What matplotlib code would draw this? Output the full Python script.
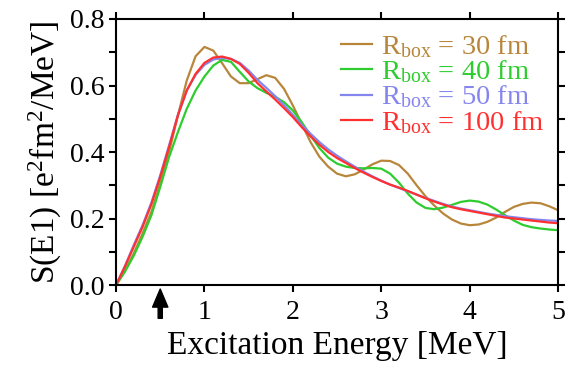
import numpy as np
from matplotlib import pyplot as plt

plt.rcParams['font.family'] = ['Liberation Serif', 'DejaVu Serif']
plt.rcParams['mathtext.fontset'] = 'custom'
plt.rcParams['mathtext.rm'] = 'Liberation Serif'
plt.rcParams['mathtext.it'] = 'Liberation Serif:italic'

# excitation energy grid [MeV]
energy = np.round(np.arange(0, 5.01, 0.1), 1)

# S(E1), one list per box size
s_30fm = [0.0, 0.042, 0.095, 0.155, 0.22, 0.305, 0.4, 0.51, 0.615, 0.688,
          0.716, 0.705, 0.667, 0.627, 0.607, 0.607, 0.619, 0.631, 0.623, 0.59,
          0.54, 0.485, 0.43, 0.386, 0.356, 0.335, 0.327, 0.333, 0.347, 0.363,
          0.374, 0.373, 0.361, 0.335, 0.3, 0.267, 0.239, 0.215, 0.197, 0.185,
          0.18, 0.182, 0.19, 0.203, 0.22, 0.235, 0.244, 0.248, 0.246, 0.237,
          0.225]
s_40fm = [0.0, 0.04, 0.088, 0.145, 0.21, 0.295, 0.385, 0.46, 0.53, 0.585,
          0.627, 0.66, 0.677, 0.671, 0.641, 0.612, 0.592, 0.578, 0.566, 0.55,
          0.525, 0.49, 0.45, 0.412, 0.383, 0.365, 0.356, 0.352, 0.351, 0.352,
          0.35, 0.335, 0.308, 0.275, 0.248, 0.232, 0.228, 0.233, 0.241, 0.25,
          0.254, 0.251, 0.242, 0.227, 0.21, 0.194, 0.181, 0.174, 0.17, 0.167,
          0.165]
s_50fm = [0.0, 0.057, 0.12, 0.18, 0.248, 0.33, 0.42, 0.512, 0.585, 0.632,
          0.662, 0.678, 0.683, 0.68, 0.668, 0.645, 0.617, 0.593, 0.568, 0.541,
          0.512, 0.482, 0.455, 0.43, 0.408, 0.389, 0.372, 0.356, 0.341, 0.327,
          0.314, 0.302, 0.292, 0.282, 0.272, 0.262, 0.253, 0.244, 0.236, 0.23,
          0.225, 0.22, 0.215, 0.211, 0.207, 0.204, 0.201, 0.198, 0.196, 0.194,
          0.193]
s_100fm = [0.0, 0.055, 0.115, 0.175, 0.243, 0.325, 0.415, 0.51, 0.585, 0.635,
           0.668, 0.684, 0.687, 0.68, 0.665, 0.638, 0.607, 0.582, 0.558, 0.532,
           0.505, 0.475, 0.447, 0.422, 0.4, 0.382, 0.367, 0.352, 0.338, 0.325,
           0.313, 0.302, 0.293, 0.283, 0.272, 0.261, 0.251, 0.242, 0.234, 0.228,
           0.223, 0.218, 0.213, 0.208, 0.203, 0.2, 0.197, 0.194, 0.191, 0.188,
           0.186]

labels = [r'R$_{\rm box}$ = 30 fm', r'R$_{\rm box}$ = 40 fm',
          r'R$_{\rm box}$ = 50 fm', r'R$_{\rm box}$ = 100 fm']
colors = ['#b8863b', '#2ecc2e', '#8585ee', '#ff3030']

fig, ax = plt.subplots(figsize=(5.66, 3.65), dpi=100)
fig.subplots_adjust(left=0.205, right=0.986, top=0.948, bottom=0.219)

for s, lab, c in zip([s_30fm, s_40fm, s_50fm, s_100fm], labels, colors):
    ax.plot(energy, s, color=c, lw=1.6, label=lab, solid_joinstyle='round')

ax.set_xlim(0, 5)
ax.set_ylim(0, 0.8)
ax.set_xticks([0, 1, 2, 3, 4, 5])
ax.set_yticks([0.0, 0.2, 0.4, 0.6, 0.8])
ax.set_yticks(np.arange(0.1, 0.8, 0.2), minor=True)
ax.set_yticklabels(['0.0', '0.2', '0.4', '0.6', '0.8'])
ax.tick_params(which='both', direction='out', length=5, width=1.5,
               top=True, right=True, labelsize=20)
ax.tick_params(axis='x', pad=6)
for sp in ax.spines.values():
    sp.set_linewidth(1.5)

ax.set_xlabel('Excitation Energy [MeV]', fontsize=24, labelpad=4)
ax.set_ylabel(r'S(E1) [e$^2$fm$^2$/MeV]', fontsize=24, labelpad=4)

# threshold arrow below the axis
ax.annotate('', xy=(0.5, -0.012), xytext=(0.5, -0.1),
            arrowprops=dict(facecolor='black', edgecolor='black', width=3,
                            headwidth=11, headlength=13, shrink=0),
            annotation_clip=False)

leg = ax.legend(loc='upper right', frameon=False, fontsize=20.5,
                handlelength=1.1, handletextpad=0.3, labelspacing=-0.06,
                borderaxespad=0.1, bbox_to_anchor=(1.0, 1.0))
for txt, c in zip(leg.get_texts(), colors):
    txt.set_color(c)

plt.savefig('out.png', dpi=100)
